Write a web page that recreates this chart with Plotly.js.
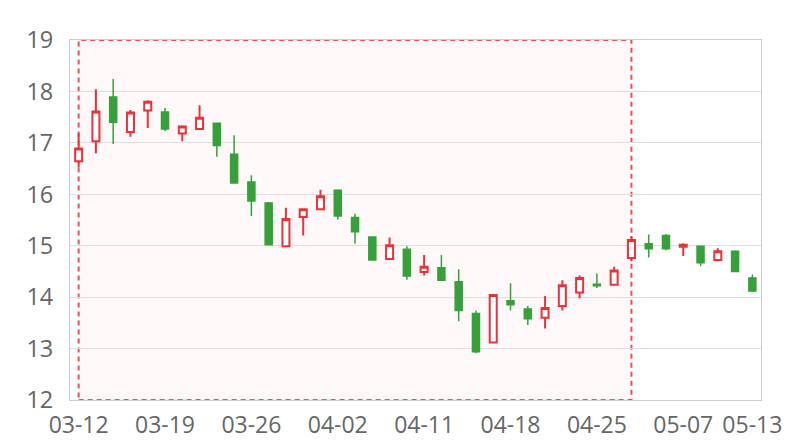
<!DOCTYPE html>
<html>
<head>
<meta charset="utf-8">
<script src="https://cdn.plot.ly/plotly-3.0.1.min.js"></script>
<style>html,body{margin:0;padding:0;background:#fff;}#chart{width:800px;height:440px;}</style>
</head>
<body>
<div id="chart"></div>
<script>
const dates = ['03-12','03-13','03-14','03-15','03-18','03-19','03-20','03-21','03-22','03-25',
  '03-26','03-27','03-28','03-29','04-01','04-02','04-03','04-04','04-08','04-09',
  '04-11','04-12','04-15','04-16','04-17','04-18','04-19','04-22','04-23','04-24',
  '04-25','04-26','04-29','04-30','05-06','05-07','05-08','05-09','05-10','05-13'];
const openVals = [16.64,17.03,17.89,17.21,17.63,17.60,17.18,17.27,17.38,16.78,
  16.24,15.83,14.99,15.56,15.71,16.08,15.55,15.17,14.74,14.93,
  14.49,14.57,14.30,13.68,13.12,13.93,13.77,13.60,13.83,14.09,
  14.25,14.24,14.76,15.04,15.20,14.98,14.99,14.72,14.89,14.37];
const highVals = [17.18,18.04,18.24,17.64,17.83,17.68,17.34,17.73,17.38,17.15,
  16.37,15.85,15.74,15.71,16.09,16.10,15.62,15.17,15.16,14.99,
  14.82,14.82,14.54,13.74,14.04,14.27,13.83,14.02,14.33,14.42,
  14.46,14.59,15.19,15.22,15.23,15.05,14.99,14.95,14.91,14.44];
const lowVals = [16.52,16.80,16.98,17.12,17.29,17.23,17.03,17.27,16.73,16.22,
  15.58,15.02,14.99,15.20,15.71,15.51,15.04,14.72,14.74,14.34,
  14.42,14.33,13.53,12.91,13.12,13.74,13.46,13.39,13.74,13.98,
  14.18,14.24,14.70,14.77,14.91,14.80,14.60,14.72,14.50,14.10];
const closeVals = [16.89,17.61,17.40,17.59,17.80,17.27,17.32,17.49,16.95,16.22,
  15.87,15.02,15.52,15.71,15.96,15.58,15.27,14.72,15.01,14.41,
  14.59,14.33,13.74,12.94,14.04,13.85,13.58,13.79,14.23,14.37,
  14.22,14.52,15.11,14.94,14.94,15.02,14.67,14.89,14.50,14.12];
const tickLabels = ['03-12','03-19','03-26','04-02','04-11','04-18','04-25','05-07','05-13'];
const yTicks = [12,13,14,15,16,17,18,19];
const shadeStart = '03-12';
const shadeEnd = '04-29';

const red = '#e8333b';
const green = '#36a03a';

const trace = {
  type: 'candlestick',
  x: dates,
  open: openVals, high: highVals, low: lowVals, close: closeVals,
  increasing: {line: {color: red, width: 2}, fillcolor: '#ffffff'},
  decreasing: {line: {color: green, width: 1.5}, fillcolor: green},
  whiskerwidth: 0,
  hoverinfo: 'none',
  showlegend: false
};

const layout = {
  width: 800, height: 440,
  margin: {l: 70, r: 39, t: 40, b: 40},
  paper_bgcolor: '#ffffff', plot_bgcolor: '#ffffff',
  font: {family: '"Open Sans", "Noto Sans", sans-serif', size: 23.5, color: '#666666'},
  boxgap: 0.42,
  xaxis: {
    type: 'category',
    range: [-0.5, dates.length - 0.5],
    tickmode: 'array', tickvals: tickLabels, ticktext: tickLabels,
    tickfont: {size: 23},
    showgrid: false, zeroline: false,
    showline: true, linecolor: '#cccccc', linewidth: 1, mirror: true,
    ticks: '', ticklen: 0,
    ticklabelstandoff: 4,
    rangeslider: {visible: false},
    fixedrange: true
  },
  yaxis: {
    range: [12, 19],
    tickmode: 'array', tickvals: yTicks,
    showgrid: true, gridcolor: '#dddddd', gridwidth: 1,
    zeroline: false,
    showline: true, linecolor: '#cccccc', linewidth: 1, mirror: true,
    ticks: '', ticklen: 0,
    ticklabelstandoff: 11,
    fixedrange: true
  },
  shapes: [{
    type: 'rect', xref: 'x', yref: 'y',
    x0: shadeStart, x1: shadeEnd, y0: 12, y1: 19,
    fillcolor: 'rgba(232,51,59,0.035)',
    line: {color: 'rgba(232,51,59,0.85)', width: 2, dash: '5px,4px'},
    layer: 'below'
  }]
};

Plotly.newPlot('chart', [trace], layout, {staticPlot: true, displayModeBar: false});
</script>
</body>
</html>
